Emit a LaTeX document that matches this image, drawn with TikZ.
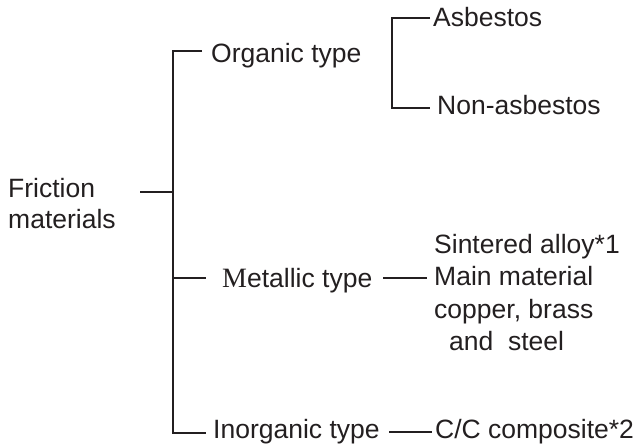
\documentclass[tikz,border=0pt]{standalone}
\usepackage{fontspec}
\setmainfont{Liberation Sans}
\newfontfamily\serifcap{Liberation Serif}
\definecolor{ink}{HTML}{231F20}
\begin{document}
\begin{tikzpicture}[x=1pt,y=-1pt,
  lbl/.style={inner sep=0pt, anchor=base west, text=ink,
              font=\fontsize{26.5}{32}\selectfont},
  conn/.style={draw=ink, line width=1.1pt}]
\useasboundingbox (0,0) rectangle (641,447);

% root
\node[lbl] (fric1) at (8,197) {Friction};
\node[lbl] (fric2) at (8,228) {materials};

% first level
\node[lbl] (org)   at (211,63)  {Organic type};
\node[lbl] (met)   at (222,287) {{\serifcap\fontsize{28}{32}\selectfont M}etallic type};
\node[lbl] (inorg) at (213,438) {Inorganic type};

% second level
\node[lbl] (asb)    at (433,27)  {Asbestos};
\node[lbl] (nonasb) at (437,114) {Non-asbestos};
\node[lbl] (md1) at (434,253) {Sintered alloy*1};
\node[lbl] (md2) at (434,285) {Main material};
\node[lbl] (md3) at (434,318) {copper, brass};
\node[lbl] (md4) at (449,350) {and\ \ steel};
\node[lbl] (cc)  at (435,438) {C/C composite*2};

% joints of the main bracket
\coordinate (rootEnd) at (140,192);
\coordinate (trunkMid) at (173,192);
\coordinate (trunkTop) at (173,51);
\coordinate (trunkMet) at (173,278);
\coordinate (trunkBot) at (173,433);
\coordinate (orgIn)   at (202,51);
\coordinate (metIn)   at (206,278);
\coordinate (inorgIn) at (206,433);

\draw[conn] (rootEnd) -- (trunkMid);
\draw[conn] (orgIn) -- (trunkTop) -- (trunkBot) -- (inorgIn);
\draw[conn] (trunkMet) -- (metIn);

% joints of the organic bracket
\coordinate (asbTop) at (392,18);
\coordinate (asbIn)  at (430,18);
\coordinate (asbBot) at (392,108);
\coordinate (nonIn)  at (430,108);
\draw[conn] (asbIn) -- (asbTop) -- (asbBot) -- (nonIn);

% metallic and inorganic leaders
\coordinate (metOut) at (383,278);
\coordinate (mdIn)   at (427,278);
\draw[conn] (metOut) -- (mdIn);
\coordinate (inorgOut) at (389,432);
\coordinate (ccIn)     at (432,432);
\draw[conn] (inorgOut) -- (ccIn);
\end{tikzpicture}
\end{document}
